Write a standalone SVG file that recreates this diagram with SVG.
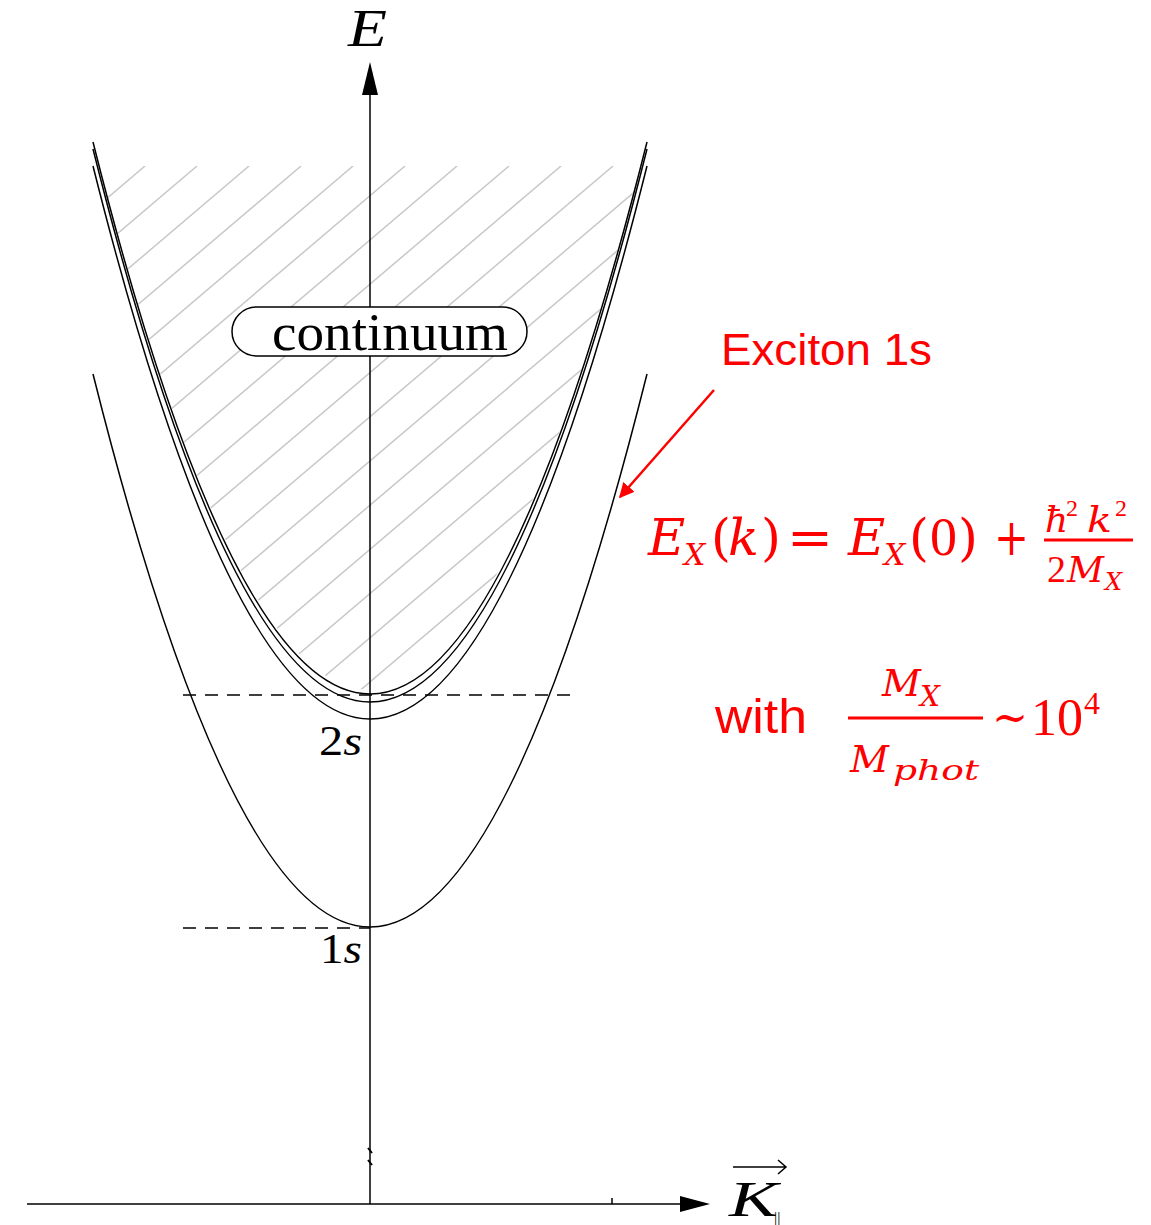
<svg xmlns="http://www.w3.org/2000/svg" width="1151" height="1225" viewBox="0 0 1151 1225">
<style>
.curve{fill:none;stroke:#000;stroke-width:1.5}
.axis{fill:none;stroke:#000;stroke-width:1.5}
.dash{fill:none;stroke:#000;stroke-width:1.5;stroke-dasharray:13 9}
.hatch{fill:none;stroke:#c8c8c8;stroke-width:1.5}
.lbl{font-family:"Liberation Serif",serif;fill:#000}
.math{font-family:"DejaVu Serif","Liberation Serif",serif;fill:#f00;font-style:italic}
.num{font-family:"Liberation Serif",serif;fill:#f00;font-style:normal}
.up{font-style:normal}
.red{font-family:"Liberation Sans",Arial,sans-serif;fill:#f00}
</style>
<defs>
<clipPath id="hclip"><path d="M100,166 Q370,1214 640,166 Z"/></clipPath>
<marker id="redhead" viewBox="0 0 10 10" refX="9" refY="5" markerWidth="6" markerHeight="6" markerUnits="strokeWidth" orient="auto"><path d="M0,0 L10,5 L0,10 Z" fill="#f00"/></marker>
</defs>
<rect width="1151" height="1225" fill="#fff"/>

<g id="hatching" clip-path="url(#hclip)">
<path class="hatch" d="M93,166 l-800,680 M145,166 l-800,680 M197,166 l-800,680 M249,166 l-800,680 M301,166 l-800,680 M353,166 l-800,680 M405,166 l-800,680 M457,166 l-800,680 M509,166 l-800,680 M561,166 l-800,680 M613,166 l-800,680 M665,166 l-800,680 M717,166 l-800,680 M769,166 l-800,680 M821,166 l-800,680 M873,166 l-800,680 M925,166 l-800,680 M977,166 l-800,680 M1029,166 l-800,680"/>
</g>

<g id="connectors">
<g id="axes">
<line class="axis" x1="370" y1="1204" x2="370" y2="90"/>
<polygon points="370,62 362,95 378,95" fill="#000"/>
<line class="axis" x1="27" y1="1204" x2="685" y2="1204"/>
<polygon points="710,1204 680,1196 680,1212" fill="#000"/>
<line class="axis" x1="612" y1="1198" x2="612" y2="1204"/>
<path d="M368,1148 L372,1153 M368,1160 L372,1165" stroke="#000" stroke-width="2" fill="none"/>
</g>
<g id="levels">
<line class="dash" x1="183" y1="695" x2="575" y2="695"/>
<line class="dash" x1="183" y1="928" x2="370" y2="928"/>
</g>
<line id="exciton-arrow" x1="714" y1="390" x2="620" y2="497" stroke="#f00" stroke-width="2.5" marker-end="url(#redhead)"/>
</g>

<g id="curve-1s"><path class="curve" d="M93,374 Q370,1480 647,374"/></g>
<g id="curve-continuum">
<path class="curve" d="M93,142 Q370,1246 647,142"/>
<path class="curve" d="M93,149 Q370,1255 647,149"/>
<path class="curve" d="M93,166 Q370,1272 647,166"/>
</g>

<g id="continuum-label">
<rect x="232" y="307" width="295" height="49" rx="24.5" fill="#fff" stroke="#000" stroke-width="1.5"/>
<text class="lbl" x="272" y="350" font-size="52" textLength="236" lengthAdjust="spacingAndGlyphs">continuum</text>
</g>

<g id="label-E"><text class="lbl" x="348" y="46" font-size="52" font-style="italic" textLength="39" lengthAdjust="spacingAndGlyphs">E</text></g>
<g id="label-K">
<text class="lbl" x="729" y="1216" font-size="50" font-style="italic" textLength="49" lengthAdjust="spacingAndGlyphs">K</text>
<path d="M733,1167 L785,1167 M778,1160 L786,1167 L778,1174" stroke="#000" stroke-width="1.5" fill="none"/>
<text class="lbl" x="774" y="1224" font-size="16" fill="#000">||</text>
</g>
<g id="label-2s"><text class="lbl" x="319" y="755" font-size="42" textLength="43" lengthAdjust="spacingAndGlyphs">2<tspan font-style="italic">s</tspan></text></g>
<g id="label-1s"><text class="lbl" x="320" y="963" font-size="42" textLength="42" lengthAdjust="spacingAndGlyphs">1<tspan font-style="italic">s</tspan></text></g>

<g id="exciton-label"><text class="red" x="721" y="365" font-size="45" textLength="211" lengthAdjust="spacingAndGlyphs">Exciton 1s</text></g>

<g id="dispersion-formula">
<text class="math" x="648" y="555" font-size="51">E<tspan x="684" y="565" font-size="30">X</tspan><tspan x="711" y="555" font-style="normal">(</tspan><tspan x="728" y="555">k</tspan><tspan x="761" y="555" font-style="normal">)</tspan></text>
<text class="math up" x="787" y="555" font-size="51" textLength="46" lengthAdjust="spacingAndGlyphs">=</text>
<text class="math" x="848" y="555" font-size="51">E<tspan x="884" y="565" font-size="30">X</tspan><tspan x="909" y="555" font-style="normal">(</tspan><tspan x="930" y="555" font-style="normal" font-family="Liberation Serif, serif" font-size="54">0</tspan><tspan x="958" y="555" font-style="normal">)</tspan></text>
<text class="math up" x="994" y="555" font-size="51" textLength="35" lengthAdjust="spacingAndGlyphs">+</text>
<text class="math" x="1045" y="532" font-size="36">ħ</text>
<text class="num" x="1066" y="516" font-size="24">2</text>
<text class="math" x="1087" y="532" font-size="36" textLength="25" lengthAdjust="spacingAndGlyphs">k</text>
<text class="num" x="1115" y="516" font-size="24">2</text>
<line x1="1044" y1="540" x2="1133" y2="540" stroke="#f00" stroke-width="3"/>
<text class="num" x="1047" y="582" font-size="38">2</text>
<text class="math" x="1067" y="582" font-size="35" textLength="37" lengthAdjust="spacingAndGlyphs">M</text>
<text class="math" x="1105" y="590" font-size="24">X</text>
</g>

<g id="mass-ratio">
<text class="red" x="715" y="733" font-size="48" textLength="92" lengthAdjust="spacingAndGlyphs">with</text>
<text class="math" x="882" y="696" font-size="38">M</text>
<text class="math" x="920" y="706" font-size="28">X</text>
<line x1="848" y1="718" x2="983" y2="718" stroke="#f00" stroke-width="3"/>
<text class="math" x="850" y="772" font-size="38">M</text>
<text class="math" x="893" y="780" font-size="28" textLength="86" lengthAdjust="spacingAndGlyphs">phot</text>
<text class="math up" x="992" y="734" font-size="48" textLength="36" lengthAdjust="spacingAndGlyphs">~</text>
<text class="num" x="1031" y="735" font-size="52">10</text>
<text class="num" x="1084" y="714" font-size="32">4</text>
</g>
</svg>
